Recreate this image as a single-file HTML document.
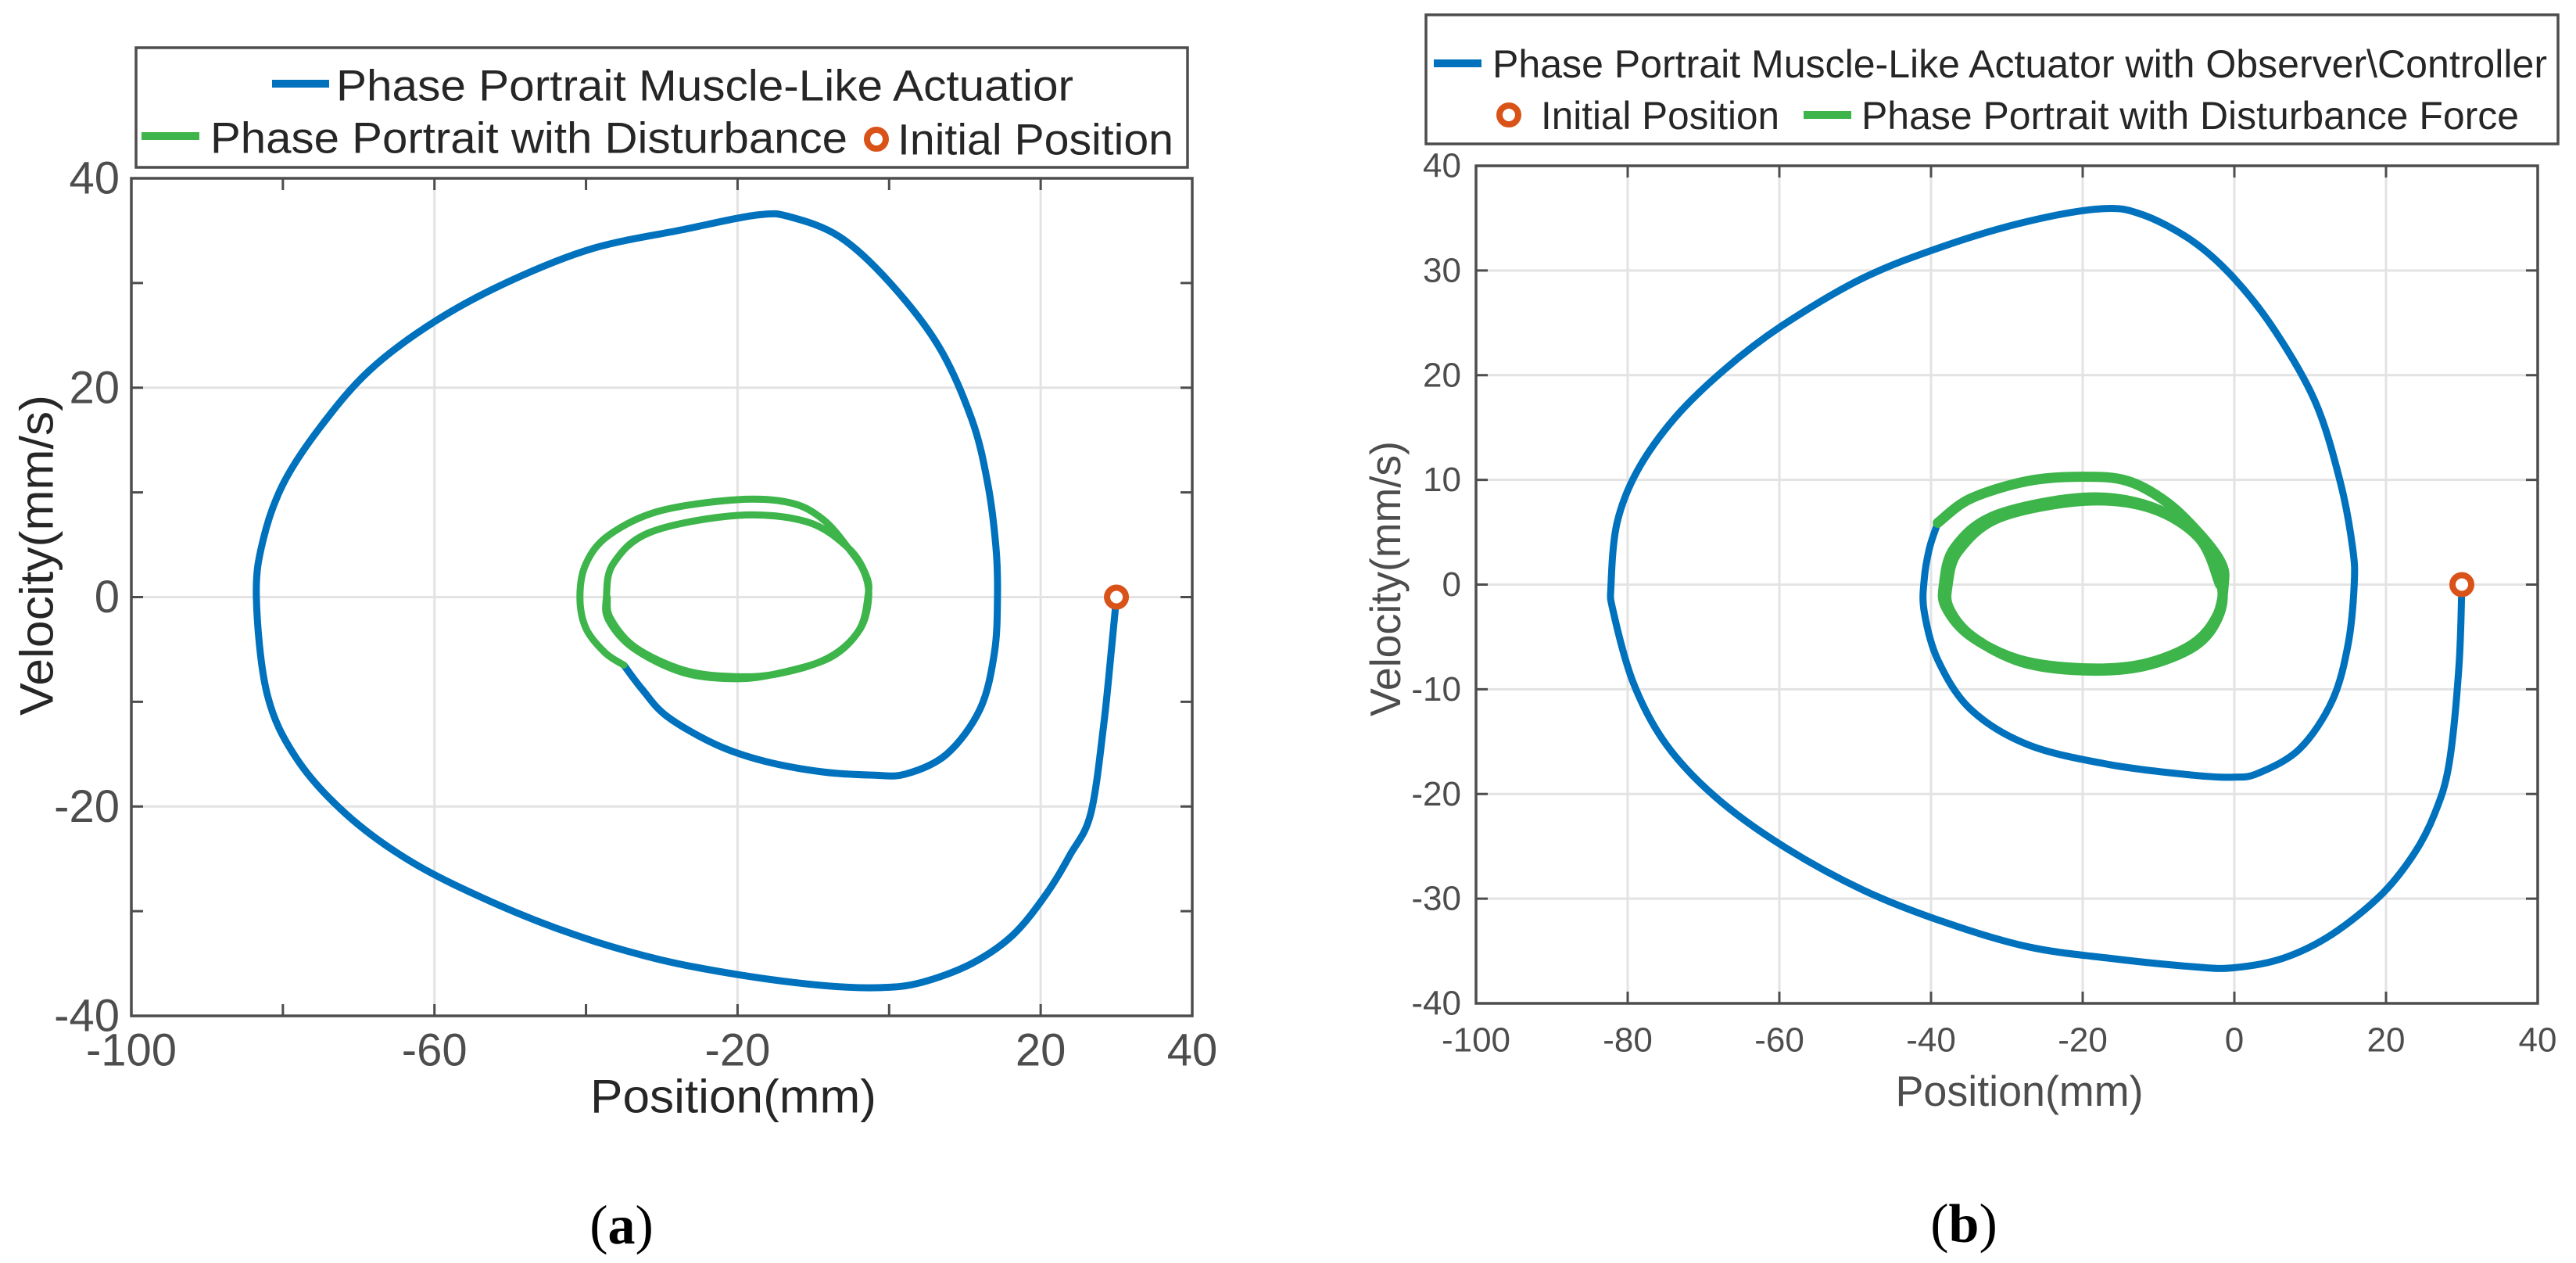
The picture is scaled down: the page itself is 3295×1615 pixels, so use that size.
<!DOCTYPE html>
<html><head><meta charset="utf-8"><style>
html,body{margin:0;padding:0;background:#fff;}
svg{display:block;font-family:"Liberation Sans",sans-serif;}
</style></head><body>
<svg id="fig" width="3295" height="1615" viewBox="0 0 3295 1615" xmlns="http://www.w3.org/2000/svg"></svg>
<script>
// ---- Chart (a) data ----
const aXTicks=[-100,-80,-60,-40,-20,0,20,40];
const aXLabels=[-100,-60,-20,20,40];
const aYTicks=[-40,-30,-20,-10,0,10,20,30,40];
const aYLabels=[-40,-20,0,20,40];
const aGridX=[-60,-20,20];
const aGridY=[-20,0,20];
const aBlueX=[30,29.4,28.3,26.6,23.9,20.7,16.3,10.9,4.3,-1.1,-8.7,-19.6,-30.4,-41.3,-52.2,-63,-71.7,-78.3,-82.1,-83.5,-82.6,-79.9,-75,-68.5,-59.8,-50,-39.1,-27.2,-17.4,-13,-6.5,0,6.5,10.9,13,14.1,14.3,13.9,12,7.6,2.2,-2.2,-8.7,-16.3,-22.8,-29.3,-32.6,-35];
const aBlueY=[0,-4.5,-12.3,-20.7,-24.6,-28.4,-32.3,-35,-36.8,-37.3,-37.1,-36.1,-34.6,-32.3,-29.2,-25.3,-20.7,-15.3,-9.2,0,5.5,10.9,16.3,21.7,26.4,30.2,33.3,35.1,36.5,36.3,34.4,30.1,24,17,10.9,4.7,0,-5.3,-10.7,-15,-16.9,-17,-16.7,-15.7,-14.1,-11.4,-8.8,-6.5];
const aGreenX=[-35,-37.5,-40,-40.8,-40,-37,-30.4,-20.1,-13,-8.7,-5.4,-3.3,-2.7,-3.8,-7.6,-14.1,-20.1,-27.2,-33.7,-37,-37.3,-36.4,-31.5,-20.1,-10.9,-5.4,-3,-2.8,-4,-8,-14.5,-20.3,-27,-33.5,-36.8,-37.2];
const aGreenY=[-6.5,-5.3,-3,0,3.2,5.9,8.2,9.3,9,7.4,4.7,2.4,0,-3,-5.7,-7.2,-7.8,-7.2,-4.9,-2.2,0,3.2,6.2,7.8,7.2,4.7,2,0,-3.2,-5.8,-7.3,-7.6,-7,-4.8,-2,0];
const aInit=[30,0];
// ---- Chart (b) data ----
const bXTicks=[-100,-80,-60,-40,-20,0,20,40];
const bYTicks=[-40,-30,-20,-10,0,10,20,30,40];
const bBlueX=[30,29.6,28.3,26.4,23.7,19.4,12.9,6.4,-0.1,-5.5,-16.4,-27.2,-38,-48.9,-59.7,-68.4,-74.9,-79.2,-81.9,-82.2,-81.4,-78.7,-73.8,-67.3,-59.7,-48.9,-38,-27.2,-17.4,-12,-5.5,-0.1,5.3,10.7,14,15.6,15.8,15,12.9,8.6,3.2,-0.1,-5.5,-16.4,-27.2,-34.8,-39.1,-40.9,-40.9,-40.2,-39.1];
const bBlueY=[0,-8,-17.2,-21.9,-25.7,-29.6,-33.4,-35.7,-36.6,-36.5,-35.7,-34.6,-32.3,-29.2,-24.9,-20.3,-15.3,-9.5,-2.6,0,5.9,10.9,15.9,20.5,24.7,29.3,32.4,34.7,35.9,35.3,32.8,29.3,24.3,17.4,9.7,3.5,0,-5.7,-11.1,-15.7,-18,-18.4,-18.2,-17.2,-15.3,-11.9,-7.2,-2.6,0.5,3.5,5.9];
const bGreenX=[-39.1,-34.8,-27.2,-20.1,-14.1,-8.8,-4.4,-1.7,-1.4,-2.3,-5.5,-12,-19.8,-28.3,-34.8,-38,-38.3,-36.9,-31.5,-19.8,-10.9,-4.4,-1.7,-2.2,-5.3,-12,-19.9,-28,-34.5,-37.6,-37.8,-36.4,-31,-19.8,-11,-4.6,-1.9];
const bGreenY=[5.9,8.2,9.9,10.3,9.9,7.8,4.7,2,0,-3,-5.7,-7.6,-8,-7.2,-4.9,-2.2,0,3.5,6.6,8.3,7.4,4.3,0,-3.2,-5.9,-7.8,-8.2,-7.4,-5,-2.3,0,3.2,6.4,8,7.3,4.4,0];
const bInit=[30,0];

const NS="http://www.w3.org/2000/svg";
const svg=document.getElementById('fig');
function mk(tag,attrs,parent){const e=document.createElementNS(NS,tag);for(const k in attrs)e.setAttribute(k,attrs[k]);(parent||svg).appendChild(e);return e;}
function txt(s,attrs,parent){const e=mk('text',attrs,parent);e.textContent=s;return e;}

function axes(c){
  const sx=v=>c.L+(v-c.x0)/(c.x1-c.x0)*(c.R-c.L);
  const sy=v=>c.B-(v-c.y0)/(c.y1-c.y0)*(c.B-c.T);
  return {sx,sy};
}
function smoothPath(P){
  let d='M'+P[0][0].toFixed(1)+','+P[0][1].toFixed(1);
  for(let i=0;i<P.length-1;i++){
    const p0=P[Math.max(i-1,0)],p1=P[i],p2=P[i+1],p3=P[Math.min(i+2,P.length-1)];
    const c1=[p1[0]+(p2[0]-p0[0])/6,p1[1]+(p2[1]-p0[1])/6];
    const c2=[p2[0]-(p3[0]-p1[0])/6,p2[1]-(p3[1]-p1[1])/6];
    d+=' C'+c1[0].toFixed(1)+','+c1[1].toFixed(1)+' '+c2[0].toFixed(1)+','+c2[1].toFixed(1)+' '+p2[0].toFixed(1)+','+p2[1].toFixed(1);
  }
  return d;
}

function drawChart(c,gridX,gridY,xTicks,yTicks,xLabels,yLabels,blueX,blueY,greenX,greenY,init,id){
  const {sx,sy}=axes(c);
  const g=mk('g',{});
  
  
  gridX.forEach(v=>{const l=mk('line',{x1:sx(v),x2:sx(v),y1:c.T,y2:c.B,stroke:'#e3e3e3','stroke-width':3},g);
     });
  gridY.forEach(v=>{const l=mk('line',{x1:c.L,x2:c.R,y1:sy(v),y2:sy(v),stroke:'#e3e3e3','stroke-width':3},g);
     });
  const tl=15;
  xTicks.forEach(v=>{const x=sx(v);
    mk('line',{x1:x,x2:x,y1:c.B,y2:c.B-tl,stroke:'#4d4d4d','stroke-width':3},g);
    mk('line',{x1:x,x2:x,y1:c.T,y2:c.T+tl,stroke:'#4d4d4d','stroke-width':3},g);});
  yTicks.forEach(v=>{const y=sy(v);
    mk('line',{x1:c.L,x2:c.L+tl,y1:y,y2:y,stroke:'#4d4d4d','stroke-width':3},g);
    mk('line',{x1:c.R,x2:c.R-tl,y1:y,y2:y,stroke:'#4d4d4d','stroke-width':3},g);});
  xLabels.forEach(v=>{const t=txt(String(v),{x:sx(v),y:c.xlY,'text-anchor':'middle','dominant-baseline':'central','font-size':c.tf,fill:'#4d4d4d'},g);
     });
  yLabels.forEach(v=>{const t=txt(String(v),{x:c.ylX,y:sy(v),'text-anchor':'end','dominant-baseline':'central','font-size':c.tf,fill:'#4d4d4d'},g);
     });
  const bp=blueX.map((x,i)=>[sx(x),sy(blueY[i])]);
  const b=mk('path',{d:smoothPath(bp),fill:'none',stroke:'#0072BD','stroke-width':c.lw,'stroke-linejoin':'round','stroke-linecap':'round'},g);
   
  const gp=greenX.map((x,i)=>[sx(x),sy(greenY[i])]);
  const gr=mk('path',{d:smoothPath(gp),fill:'none',stroke:'#3DB54A','stroke-width':c.gw,'stroke-linejoin':'round','stroke-linecap':'round'},g);
   
  const m=mk('circle',{cx:sx(init[0]),cy:sy(init[1]),r:12,fill:'#fff',stroke:'#D95319','stroke-width':8},g);
   
  const box=mk('rect',{x:c.L,y:c.T,width:c.R-c.L,height:c.B-c.T,fill:'none',stroke:'#4d4d4d','stroke-width':3.5},g);
   
}

const cA={L:168,R:1525,T:228,B:1299,x0:-100,x1:40,y0:-40,y1:40,tf:58,xlY:1343,ylX:153,lw:9,gw:9};
drawChart(cA,aGridX,aGridY,aXTicks,aYTicks,aXLabels,aYLabels,aBlueX,aBlueY,aGreenX,aGreenY,aInit,'a');
const cB={L:1888,R:3246,T:212,B:1283,x0:-100,x1:40,y0:-40,y1:40,tf:44,xlY:1330,ylX:1869,lw:9,gw:13};
drawChart(cB,bXTicks,bYTicks,bXTicks,bYTicks,bXTicks,bYTicks,bBlueX,bBlueY,bGreenX,bGreenY,bInit,'b');

let t;
t=txt('Position(mm)',{x:938,y:1402,'text-anchor':'middle','dominant-baseline':'central','font-size':60,fill:'#262626',textLength:366,lengthAdjust:'spacingAndGlyphs'});
 
t=txt('Velocity(mm/s)',{x:0,y:0,transform:'translate(47,710) rotate(-90)','text-anchor':'middle','dominant-baseline':'central','font-size':60,fill:'#262626',textLength:410,lengthAdjust:'spacingAndGlyphs'});
 
t=txt('Position(mm)',{x:2583,y:1395,'text-anchor':'middle','dominant-baseline':'central','font-size':55,fill:'#4d4d4d',textLength:317,lengthAdjust:'spacingAndGlyphs'});
 
t=txt('Velocity(mm/s)',{x:0,y:0,transform:'translate(1772,740) rotate(-90)','text-anchor':'middle','dominant-baseline':'central','font-size':55,fill:'#4d4d4d',textLength:352,lengthAdjust:'spacingAndGlyphs'});
 

function caption(letter,x,y,name){
  const e=mk('text',{x:x,y:y,'text-anchor':'middle','dominant-baseline':'central','font-size':70,'font-family':'"Liberation Serif",serif',fill:'#000'});
   
  e.innerHTML='(<tspan font-weight="bold">'+letter+'</tspan>)';
}
caption('a',795,1567,'caption-a');
caption('b',2512,1565,'caption-b');

function legend(name,x,y,w,h){const r=mk('rect',{x:x,y:y,width:w,height:h,fill:'#fff',stroke:'#4d4d4d','stroke-width':3.5});
   }
function lline(x1,x2,y,col,w){mk('line',{x1:x1,x2:x2,y1:y,y2:y,stroke:col,'stroke-width':w});}
function ltext(s,x,y,fs,len,name){const e=txt(s,{x:x,y:y,'dominant-baseline':'central','font-size':fs,fill:'#262626',textLength:len,lengthAdjust:'spacingAndGlyphs'});
   }
function lmark(x,y){mk('circle',{cx:x,cy:y,r:12,fill:'#fff',stroke:'#D95319','stroke-width':8});}

legend('legend-a',174,61,1345,153);
lline(348,421,107,'#0072BD',10);
ltext('Phase Portrait Muscle-Like Actuatior',430,109,56,943,'legend-entry-phase-portrait');
lline(181,255,174,'#3DB54A',10);
ltext('Phase Portrait with Disturbance',269,176,56,815,'legend-entry-disturbance');
lmark(1121,178);
ltext('Initial Position',1148,178,56,353,'legend-entry-initial-position');

legend('legend-b',1824,19,1448,165);
lline(1834,1895,81,'#0072BD',10);
ltext('Phase Portrait Muscle-Like Actuator with Observer\\Controller',1909,82,50,1349,'legend-entry-phase-portrait-observer');
lmark(1930,147);
ltext('Initial Position',1971,148,50,305,'legend-entry-initial-position-b');
lline(2307,2368,147,'#3DB54A',10);
ltext('Phase Portrait with Disturbance Force',2381,148,50,841,'legend-entry-disturbance-force');
</script>
</body></html>
